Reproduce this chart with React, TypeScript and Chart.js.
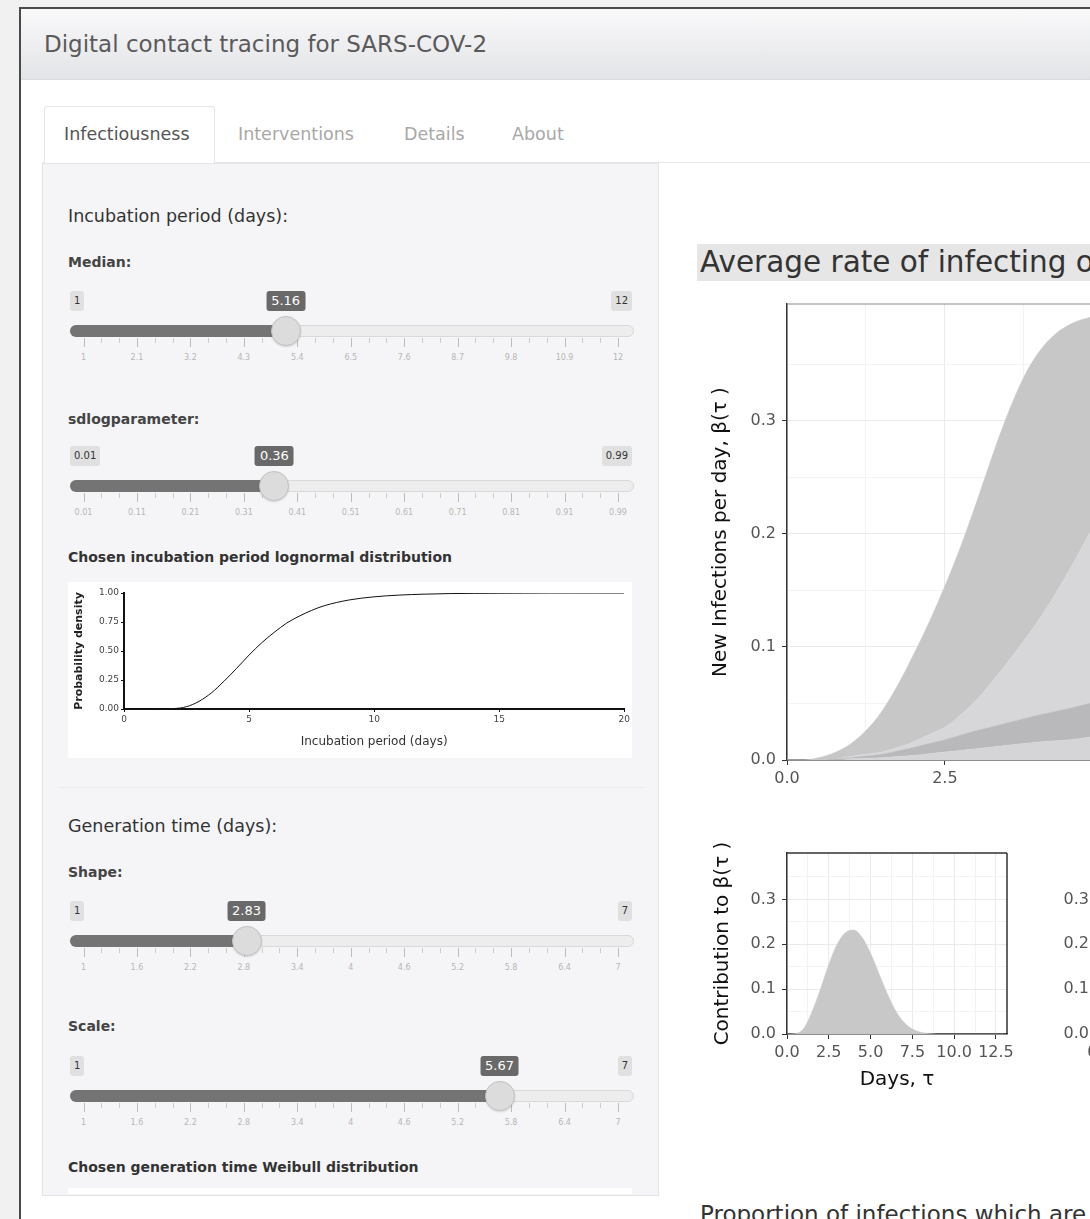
import React, { useEffect, useRef } from "react";
import { Chart, registerables } from "chart.js";
Chart.register(...registerables);

// ---------- DATA ----------
// Main stacked chart: days and the four stacked contributions (bottom -> top)
const mainDays = [0, 0.25, 0.5, 0.75, 1, 1.25, 1.5, 1.75, 2, 2.25, 2.5, 2.75, 3, 3.25, 3.5, 3.75, 4, 4.25, 4.5, 4.75, 5, 5.25, 5.5, 5.75, 6];
const bandA = [0, 0, 0, 0, 0.001, 0.0015, 0.002, 0.003, 0.004, 0.0055, 0.007, 0.0085, 0.01, 0.0115, 0.013, 0.0145, 0.016, 0.017, 0.018, 0.02, 0.021, 0.0215, 0.022, 0.0225, 0.023];
const bandB = [0, 0, 0, 0.0005, 0.001, 0.002, 0.003, 0.005, 0.007, 0.009, 0.011, 0.0135, 0.016, 0.018, 0.02, 0.022, 0.024, 0.026, 0.028, 0.0295, 0.031, 0.032, 0.033, 0.0335, 0.034];
const bandC = [0, 0, 0, 0, 0.001, 0.0015, 0.002, 0.003, 0.005, 0.008, 0.011, 0.018, 0.027, 0.04, 0.054, 0.069, 0.085, 0.104, 0.125, 0.147, 0.17, 0.19, 0.21, 0.225, 0.24];
const bandD = [0, 0, 0.002, 0.006, 0.011, 0.021, 0.036, 0.055, 0.077, 0.0995, 0.125, 0.149, 0.175, 0.1995, 0.22, 0.2335, 0.237, 0.23, 0.215, 0.1945, 0.171, 0.1485, 0.124, 0.102, 0.078];
const bandColors = ["#d5d5d7", "#b9b9bb", "#d7d7da", "#c7c7c7"];
const mainXTicks = [0, 1.25, 2.5, 3.75, 5];
const yTicks = [0, 0.05, 0.1, 0.15, 0.2, 0.25, 0.3, 0.35];

// Small chart: contribution to beta(tau)
const contribDays = [0, 0.5, 1, 1.5, 2, 2.5, 3, 3.5, 4, 4.5, 5, 5.5, 6, 6.5, 7, 7.5, 8, 8.5, 9, 10, 11, 12, 13];
const contribValues = [0, 0.001, 0.012, 0.05, 0.1, 0.155, 0.2, 0.226, 0.232, 0.215, 0.18, 0.135, 0.09, 0.052, 0.026, 0.011, 0.004, 0.001, 0, 0, 0, 0, 0];
const smallXTicks = [0, 1.25, 2.5, 3.75, 5, 6.25, 7.5, 8.75, 10, 11.25, 12.5];

// Incubation period lognormal CDF
const incDays = [0, 1, 2, 2.5, 3, 3.5, 4, 4.5, 5, 5.5, 6, 6.5, 7, 7.5, 8, 9, 10, 11, 12, 13, 14, 15, 16, 17, 18, 19, 20];
const incProb = [0, 0, 0.004, 0.02, 0.066, 0.14, 0.24, 0.35, 0.465, 0.57, 0.66, 0.74, 0.8, 0.85, 0.89, 0.94, 0.967, 0.982, 0.99, 0.995, 0.997, 0.998, 0.999, 1, 1, 1, 1];
const incXTicks = [0, 5, 10, 15, 20];
const incYTicks = [0, 0.25, 0.5, 0.75, 1];

// Sliders
const medianGrid = ["1", "2.1", "3.2", "4.3", "5.4", "6.5", "7.6", "8.7", "9.8", "10.9", "12"];
const sdlogGrid = ["0.01", "0.11", "0.21", "0.31", "0.41", "0.51", "0.61", "0.71", "0.81", "0.91", "0.99"];
const weibullGrid = ["1", "1.6", "2.2", "2.8", "3.4", "4", "4.6", "5.2", "5.8", "6.4", "7"];

const tabs = ["Infectiousness", "Interventions", "Details", "About"];
const tabX = [64, 238, 404, 512];

// ---------- HELPERS ----------
const AX = "'DejaVu Sans', sans-serif";
const UI = "'DejaVu Sans', sans-serif";

const isMajor = (v: number, step: number) => {
  const r = v / step;
  return Math.abs(r - Math.round(r)) < 1e-6;
};

const borderPlugin = (sides: string[], color: string, width: number) => ({
  id: "panelBorder",
  afterDraw(chart: any) {
    const { left, right, top, bottom } = chart.chartArea;
    const ctx = chart.ctx;
    ctx.save();
    ctx.strokeStyle = color;
    ctx.lineWidth = width;
    ctx.beginPath();
    if (sides.includes("top")) { ctx.moveTo(left, top); ctx.lineTo(right, top); }
    if (sides.includes("right")) { ctx.moveTo(right, top); ctx.lineTo(right, bottom); }
    ctx.stroke();
    ctx.restore();
  },
});

function ChartBox({ left, top, width, height, make, bg }: any) {
  const ref = useRef<HTMLCanvasElement>(null);
  useEffect(() => {
    const chart = new Chart(ref.current as HTMLCanvasElement, make());
    return () => chart.destroy();
  }, []);
  return (
    <canvas
      ref={ref}
      width={width}
      height={height}
      style={{ position: "absolute", left, top, width, height, background: bg || "transparent" }}
    />
  );
}

function Txt({ x, y, size, color = "#333", children, weight = 400, family = UI, spacing = 0 }: any) {
  const lh = Math.round(size * 1.4);
  return (
    <div
      style={{
        position: "absolute",
        left: x,
        top: y - lh / 2,
        fontSize: size,
        lineHeight: lh + "px",
        color,
        fontWeight: weight,
        fontFamily: family,
        letterSpacing: spacing,
        whiteSpace: "nowrap",
      }}
    >
      {children}
    </div>
  );
}

const G0 = 83.5;
const GW = 534.5;

function Slider({ L, min, max, value, grid, minText, maxText, valueText }: any) {
  const hx = G0 + ((value - min) / (max - min)) * GW;
  const items: any[] = [];
  const step = GW / (grid.length - 1);
  grid.forEach((g: string, i: number) => {
    const x = G0 + i * step;
    items.push(<div key={"t" + i} style={{ position: "absolute", left: x, top: L + 37, width: 1, height: 9, background: "#bdbdbd" }} />);
    items.push(
      <div key={"l" + i} style={{ position: "absolute", left: x - 20, width: 40, top: L + 51, textAlign: "center", fontSize: 8, lineHeight: "12px", color: "#b5b5b5", fontFamily: UI }}>
        {g}
      </div>
    );
    if (i < grid.length - 1) {
      for (let k = 1; k <= 2; k++) {
        items.push(<div key={"m" + i + k} style={{ position: "absolute", left: x + (step * k) / 3, top: L + 37, width: 1, height: 5, background: "#cdcdcd" }} />);
      }
    }
  });
  const box = (text: string, x: number, anchor: string, dark: boolean) => (
    <div
      style={{
        position: "absolute",
        left: anchor === "left" || anchor === "center" ? x : undefined,
        right: anchor === "right" ? 1090 - x : undefined,
        top: L - 10,
        height: 20,
        lineHeight: "20px",
        padding: dark ? "0 5px" : "0 4px",
        borderRadius: 3,
        background: dark ? "#696969" : "#e0e0e0",
        color: dark ? "#fff" : "#333",
        fontSize: dark ? 13 : 10,
        fontFamily: UI,
        transform: anchor === "center" ? "translateX(-50%)" : undefined,
      }}
    >
      {text}
    </div>
  );
  return (
    <>
      {box(minText, 70, "left", false)}
      {box(maxText, 632, "right", false)}
      <div style={{ position: "absolute", left: 70, top: L + 24, width: 562, height: 10, background: "#ededed", border: "1px solid #d9d9d9", borderRadius: 6 }} />
      <div style={{ position: "absolute", left: 70, top: L + 24, width: hx - 70, height: 12, background: "#747474", borderRadius: "6px 0 0 6px" }} />
      {items}
      <div
        style={{
          position: "absolute",
          left: hx - 15,
          top: L + 15,
          width: 28,
          height: 28,
          borderRadius: "50%",
          background: "#dcdcdc",
          border: "1px solid #c2c2c2",
          boxShadow: "0 1px 2px rgba(0,0,0,0.15)",
        }}
      />
      {box(valueText, hx, "center", true)}
    </>
  );
}

// ---------- CHART CONFIGS ----------
const gridColor = (step: number) => (ctx: any) =>
  ctx.tick && isMajor(ctx.tick.value, step) ? "#e9e9ee" : "#f3f3f6";
const tickColor = (step: number) => (ctx: any) =>
  ctx.tick && isMajor(ctx.tick.value, step) ? "#333" : "rgba(0,0,0,0)";

function ggAxisX(max: number, tickVals: number[], size: number, height: number, title?: any) {
  return {
    type: "linear",
    min: 0,
    max,
    afterBuildTicks: (s: any) => { s.ticks = tickVals.map((v) => ({ value: v })); },
    ticks: {
      autoSkip: false,
      maxRotation: 0,
      padding: 4,
      color: "#555",
      font: { family: AX, size },
      callback: (v: any) => (isMajor(Number(v), 2.5) ? Number(v).toFixed(1) : ""),
    },
    grid: { color: gridColor(2.5), tickColor: tickColor(2.5), tickLength: 5, lineWidth: 1 },
    border: { display: true, color: "#333", width: 1.5 },
    title: title || { display: false },
    afterFit: (s: any) => { s.height = height; s.paddingLeft = 0; s.paddingRight = 0; },
  };
}

function ggAxisY(size: number, width: number, title?: any) {
  return {
    type: "linear",
    stacked: true,
    min: 0,
    max: 0.4035,
    afterBuildTicks: (s: any) => { s.ticks = yTicks.map((v) => ({ value: v })); },
    ticks: {
      autoSkip: false,
      padding: 6,
      color: "#555",
      font: { family: AX, size },
      callback: (v: any) => (isMajor(Number(v), 0.1) ? Number(v).toFixed(1) : ""),
    },
    grid: { color: gridColor(0.1), tickColor: tickColor(0.1), tickLength: 5, lineWidth: 1 },
    border: { display: true, color: "#333", width: 1.5 },
    title: title || { display: false },
    afterFit: (s: any) => { s.width = width; s.paddingTop = 0; s.paddingBottom = 0; },
  };
}

const baseOpts = {
  animation: false,
  responsive: false,
  devicePixelRatio: 1,
  plugins: { legend: { display: false }, tooltip: { enabled: false } },
  elements: { point: { radius: 0 } },
};

const makeMain = () => {
  const bands = [bandA, bandB, bandC, bandD];
  return {
    type: "line",
    data: {
      datasets: bands.map((b, i) => ({
        data: mainDays.map((d, j) => ({ x: d, y: b[j] })),
        backgroundColor: bandColors[i],
        borderColor: bandColors[i],
        borderWidth: 0.5,
        fill: i === 0 ? "origin" : "-1",
        cubicInterpolationMode: "monotone",
        pointRadius: 0,
      })),
    },
    options: {
      ...baseOpts,
      layout: { padding: { top: 10, right: 24, left: 0, bottom: 0 } },
      scales: {
        x: ggAxisX(6, mainXTicks, 16, 34),
        y: ggAxisY(16, 97, {
          display: true,
          text: "New Infections per day, β(τ )",
          color: "#111",
          font: { family: AX, size: 20 },
          padding: { top: 19, bottom: 0 },
        }),
      },
    },
    plugins: [borderPlugin(["top", "right"], "#8a8a8a", 1.2)],
  };
};

const makeContrib = () => ({
  type: "line",
  data: {
    datasets: [
      {
        data: contribDays.map((d, j) => ({ x: d, y: contribValues[j] })),
        backgroundColor: "#c8c8c8",
        borderColor: "#c8c8c8",
        borderWidth: 0.5,
        fill: "origin",
        cubicInterpolationMode: "monotone",
        pointRadius: 0,
      },
    ],
  },
  options: {
    ...baseOpts,
    layout: { padding: { top: 23, right: 13, left: 0, bottom: 0 } },
    scales: {
      x: ggAxisX(13.16, smallXTicks, 16, 61, {
        display: true,
        text: "Days, τ",
        color: "#111",
        font: { family: AX, size: 20 },
        padding: { top: 0, bottom: 3 },
      }),
      y: ggAxisY(16, 87, {
        display: true,
        text: "Contribution to β(τ )",
        color: "#111",
        font: { family: AX, size: 20 },
        padding: { top: 11, bottom: 0 },
      }),
    },
  },
  plugins: [borderPlugin(["top", "right"], "#333", 1.5)],
});

const makeContrib2 = () => ({
  type: "line",
  data: { datasets: [] },
  options: {
    ...baseOpts,
    layout: { padding: { top: 23, right: 13, left: 0, bottom: 0 } },
    scales: {
      x: ggAxisX(13.16, smallXTicks, 16, 61),
      y: ggAxisY(16, 90),
    },
  },
  plugins: [borderPlugin(["top", "right"], "#333", 1.5)],
});

const makeInc = () => ({
  type: "line",
  data: {
    datasets: [
      {
        data: incDays.map((d, j) => ({ x: d, y: incProb[j] })),
        borderColor: "#111",
        borderWidth: 1,
        fill: false,
        cubicInterpolationMode: "monotone",
        pointRadius: 0,
      },
    ],
  },
  options: {
    ...baseOpts,
    layout: { padding: { top: 11, right: 7, left: 0, bottom: 0 } },
    scales: {
      x: {
        type: "linear",
        min: 0,
        max: 20,
        afterBuildTicks: (s: any) => { s.ticks = incXTicks.map((v) => ({ value: v })); },
        ticks: { color: "#444", font: { family: AX, size: 9 }, padding: 2, maxRotation: 0, callback: (v: any) => String(v) },
        grid: { drawOnChartArea: false, tickLength: 3, tickColor: "#111" },
        border: { display: true, color: "#111", width: 2 },
        title: { display: true, text: "Incubation period (days)", color: "#333", font: { family: AX, size: 12 }, padding: { top: 0, bottom: 9 } },
        afterFit: (s: any) => { s.height = 49; },
      },
      y: {
        type: "linear",
        min: 0,
        max: 1,
        afterBuildTicks: (s: any) => { s.ticks = incYTicks.map((v) => ({ value: v })); },
        ticks: { color: "#444", font: { family: AX, size: 9 }, padding: 2, callback: (v: any) => Number(v).toFixed(2) },
        grid: { drawOnChartArea: false, tickLength: 3, tickColor: "#111" },
        border: { display: true, color: "#111", width: 2 },
        title: { display: true, text: "Probability density", color: "#222", font: { family: AX, size: 11, weight: "bold" }, padding: { top: 5, bottom: 0 } },
        afterFit: (s: any) => { s.width = 56; },
      },
    },
  },
});

// ---------- APP ----------
export default function App() {
  return (
    <div style={{ position: "fixed", left: 0, top: 0, width: 1090, height: 1219, overflow: "hidden", background: "#f1f1f1", fontFamily: UI }}>
      {/* frame */}
      <div style={{ position: "absolute", left: 19, top: 7, width: 1200, height: 1300, background: "#fff", borderTop: "2px solid #4a4a4a", borderLeft: "2px solid #4a4a4a" }} />
      {/* header */}
      <div style={{ position: "absolute", left: 21, top: 9, width: 1200, height: 70, background: "linear-gradient(#f9f9fa, #e3e4e7)", borderBottom: "1px solid #dcdcdf" }} />
      <Txt x={44} y={44} size={23} color="#5a5a5a">Digital contact tracing for SARS-COV-2</Txt>

      {/* tabs */}
      <div style={{ position: "absolute", left: 42, top: 162, width: 1200, height: 1, background: "#e6e6e6" }} />
      <div style={{ position: "absolute", left: 44, top: 106, width: 169, height: 57, background: "#fff", border: "1px solid #e6e6e6", borderBottom: "none", borderRadius: "3px 3px 0 0" }} />
      {tabs.map((t, i) => (
        <Txt key={t} x={tabX[i]} y={134} size={17.5} color={i === 0 ? "#555" : "#a8a8a8"}>{t}</Txt>
      ))}

      {/* sidebar */}
      <div style={{ position: "absolute", left: 42, top: 163, width: 615, height: 1031, background: "#f5f5f7", border: "1px solid #e4e4e6" }} />
      <Txt x={68} y={216} size={17.5} color="#333">Incubation period (days):</Txt>
      <Txt x={68} y={262} size={14} color="#444" weight={700}>Median:</Txt>
      <Slider L={301} min={1} max={12} value={5.16} grid={medianGrid} minText="1" maxText="12" valueText="5.16" />
      <Txt x={68} y={419} size={14} color="#444" weight={700}>sdlogparameter:</Txt>
      <Slider L={456} min={0.01} max={0.99} value={0.36} grid={sdlogGrid} minText="0.01" maxText="0.99" valueText="0.36" />
      <Txt x={68} y={557} size={14} color="#333" weight={700}>Chosen incubation period lognormal distribution</Txt>
      <ChartBox left={68} top={582} width={564} height={176} make={makeInc} bg="#fff" />
      <div style={{ position: "absolute", left: 58, top: 787, width: 586, height: 1, background: "#ebebed" }} />
      <Txt x={68} y={826} size={17.5} color="#333">Generation time (days):</Txt>
      <Txt x={68} y={872} size={14} color="#444" weight={700}>Shape:</Txt>
      <Slider L={911} min={1} max={7} value={2.83} grid={weibullGrid} minText="1" maxText="7" valueText="2.83" />
      <Txt x={68} y={1026} size={14} color="#444" weight={700}>Scale:</Txt>
      <Slider L={1066} min={1} max={7} value={5.67} grid={weibullGrid} minText="1" maxText="7" valueText="5.67" />
      <Txt x={68} y={1167} size={14} color="#333" weight={700}>Chosen generation time Weibull distribution</Txt>
      <div style={{ position: "absolute", left: 68, top: 1188, width: 564, height: 6, background: "#fff" }} />

      {/* main panel */}
      <div style={{ position: "absolute", left: 697, top: 244, width: 400, height: 37, background: "#e6e6e6" }} />
      <Txt x={700} y={262} size={29.5} color="#333">Average rate of infecting others</Txt>
      <ChartBox left={690} top={294} width={500} height={500} make={makeMain} />
      <ChartBox left={700} top={830} width={320} height={265} make={makeContrib} />
      <ChartBox left={1010} top={830} width={320} height={265} make={makeContrib2} />
      <Txt x={700} y={1214} size={23} color="#333">Proportion of infections which are</Txt>
    </div>
  );
}
